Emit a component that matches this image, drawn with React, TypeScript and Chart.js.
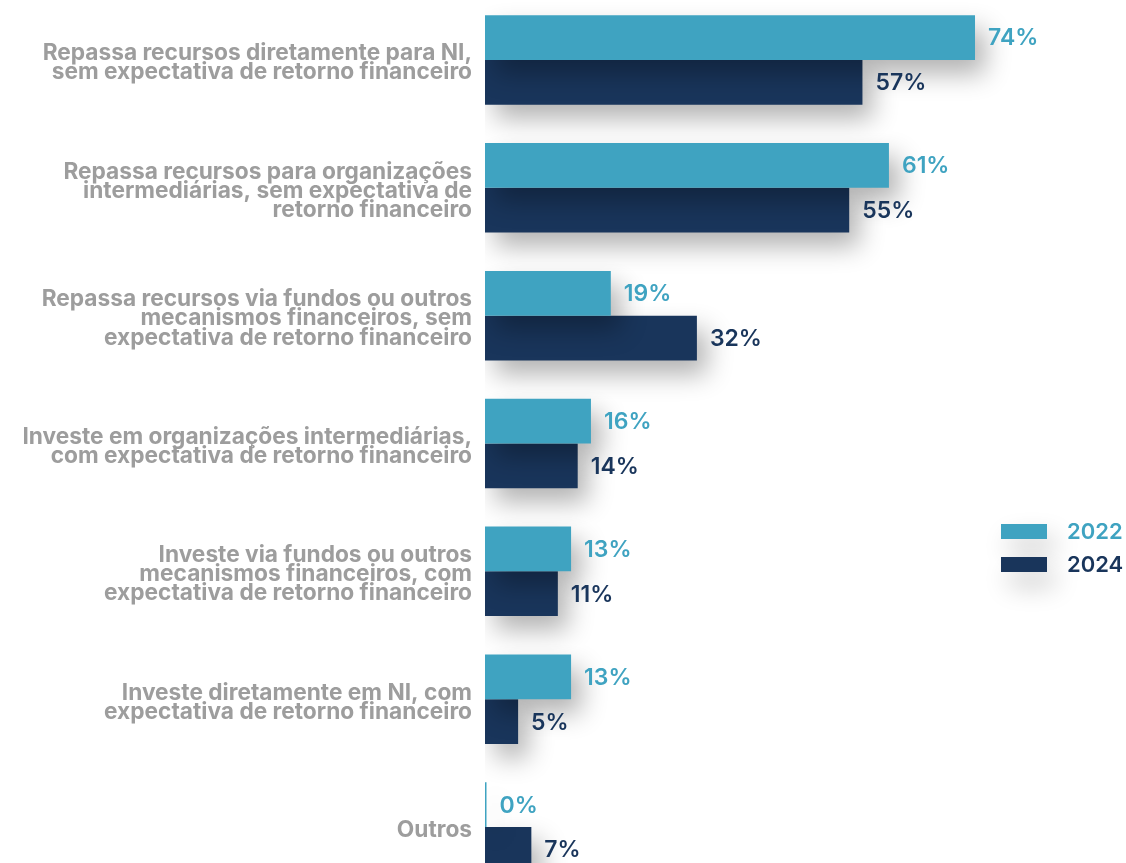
import React, { useEffect, useRef } from "react";
import { Chart, registerables } from "chart.js";

Chart.register(...registerables);

const categories: (string | string[])[] = [
  ["Repassa recursos diretamente para NI,", "sem expectativa de retorno financeiro"],
  ["Repassa recursos para organizações", "intermediárias, sem expectativa de", "retorno financeiro"],
  ["Repassa recursos via fundos ou outros", "mecanismos financeiros, sem", "expectativa de retorno financeiro"],
  ["Investe em organizações intermediárias,", "com expectativa de retorno financeiro"],
  ["Investe via fundos ou outros", "mecanismos financeiros, com", "expectativa de retorno financeiro"],
  ["Investe diretamente em NI, com", "expectativa de retorno financeiro"],
  "Outros",
];

const seriesLabels = ["2022", "2024"];
const values2022 = [74, 61, 19, 16, 13, 13, 0];
const values2024 = [57, 55, 32, 14, 11, 5, 7];

const TEAL = "#3fa3c1";
const NAVY = "#19355b";
const GREY = "#9d9d9d";
const FONT = "Inter, 'Noto Sans', sans-serif";

const shadowPlugin = {
  id: "barShadow",
  beforeDatasetsDraw(chart: any) {
    const ctx = chart.ctx;
    ctx.save();
    ctx.shadowColor = "rgba(0,0,0,0.30)";
    ctx.shadowBlur = 26;
    ctx.shadowOffsetX = 10;
    ctx.shadowOffsetY = 14;
  },
  afterDatasetsDraw(chart: any) {
    chart.ctx.restore();
  },
};

const valueLabelPlugin = {
  id: "valueLabels",
  afterDatasetsDraw(chart: any) {
    const ctx = chart.ctx;
    ctx.save();
    ctx.font = `600 23px ${FONT}`;
    ctx.textAlign = "left";
    ctx.textBaseline = "middle";
    chart.data.datasets.forEach((ds: any, di: number) => {
      const meta = chart.getDatasetMeta(di);
      ctx.fillStyle = ds.backgroundColor;
      meta.data.forEach((bar: any, i: number) => {
        ctx.fillText(`${ds.data[i]}%`, bar.x + 13, bar.y + 1);
      });
    });
    ctx.restore();
  },
};

const legendPlugin = {
  id: "customLegend",
  afterDraw(chart: any) {
    const ctx = chart.ctx;
    const x0 = 1001;
    const y0 = 528;
    const gap = 33;
    chart.data.datasets.forEach((ds: any, i: number) => {
      const y = y0 + i * gap;
      ctx.save();
      ctx.shadowColor = "rgba(0,0,0,0.22)";
      ctx.shadowBlur = 26;
      ctx.shadowOffsetX = 8;
      ctx.shadowOffsetY = 14;
      ctx.fillStyle = ds.backgroundColor;
      ctx.fillRect(x0, y, 46, 15);
      ctx.restore();
      ctx.save();
      ctx.fillStyle = ds.backgroundColor;
      ctx.font = `600 22px ${FONT}`;
      ctx.textAlign = "left";
      ctx.textBaseline = "middle";
      ctx.fillText(ds.label, x0 + 66, y + 8);
      ctx.restore();
    });
  },
};

export default function App() {
  const ref = useRef<HTMLCanvasElement>(null);
  useEffect(() => {
    if (!ref.current) return;
    const chart = new Chart(ref.current, {
      type: "bar",
      data: {
        labels: categories,
        datasets: [
          { label: seriesLabels[0], data: values2022, backgroundColor: TEAL },
          { label: seriesLabels[1], data: values2024, backgroundColor: NAVY },
        ],
      },
      options: {
        indexAxis: "y",
        animation: false,
        responsive: true,
        maintainAspectRatio: false,
        layout: { padding: 0 },
        datasets: {
          bar: { categoryPercentage: 0.7, barPercentage: 1, minBarLength: 1.5 },
        },
        scales: {
          x: { display: false, min: 0, max: 96.8 },
          y: {
            afterFit: (scale: any) => {
              scale.width = 485;
              scale.paddingTop = 0;
              scale.paddingBottom = 0;
            },
            grid: { display: false, drawTicks: false },
            border: { display: false },
            ticks: {
              color: GREY,
              padding: 13,
              labelOffset: 3,
              font: { family: FONT, size: 22.7, weight: "bold", lineHeight: 0.84 },
            },
          },
        },
        plugins: {
          legend: { display: false },
          tooltip: { enabled: false },
        },
      },
      plugins: [shadowPlugin, valueLabelPlugin, legendPlugin],
    });
    return () => chart.destroy();
  }, []);
  return (
    <div style={{ position: "absolute", left: 0, top: -4, width: 1126, height: 895, background: "#fff" }}>
      <canvas ref={ref} />
    </div>
  );
}
